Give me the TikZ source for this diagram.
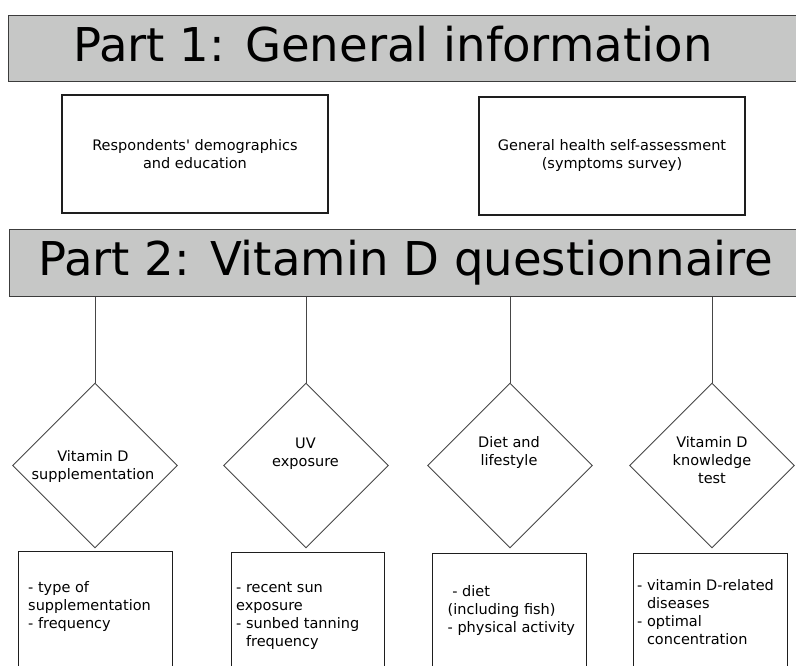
\documentclass[tikz,border=0pt]{standalone}
\usepackage{fontspec}
\setmainfont{DejaVu Sans}[Ligatures=TeXOff]
\usetikzlibrary{shapes.geometric}
\definecolor{bandgray}{RGB}{198,199,198}
\definecolor{edgegray}{RGB}{60,60,60}
\definecolor{boxedge}{RGB}{30,30,30}
\definecolor{thinedge}{RGB}{70,70,70}
\begin{document}
\begin{tikzpicture}[x=1pt,y=-1pt,
  band/.style={draw=edgegray, line width=1.4pt, fill=bandgray, rectangle, inner sep=0pt, anchor=north west, minimum width=800pt},
  titletext/.style={anchor=base west, inner sep=0pt, font=\fontsize{46.6}{56}\selectfont},
  infobox/.style={draw=boxedge, line width=1.4pt, rectangle, inner sep=0pt, minimum width=266pt, minimum height=118pt, align=center, font=\fontsize{14.5}{18}\selectfont},
  choice/.style={draw=thinedge, line width=0.9pt, diamond, inner sep=0pt, minimum width=165pt, minimum height=165pt},
  choicetext/.style={anchor=north, inner sep=0pt, align=center, font=\fontsize{14.5}{18}\selectfont},
  listbox/.style={draw=boxedge, line width=1.4pt, rectangle, inner sep=0pt, anchor=north west, minimum width=154pt, minimum height=150pt},
  listtext/.style={anchor=north west, inner sep=0pt, align=left, font=\fontsize{14.5}{18}\selectfont},
  link/.style={draw=thinedge, line width=0.9pt}
]
\useasboundingbox (0,0) rectangle (796,666);
\clip (0,0) rectangle (796,666);

% Part 1
\node[band, minimum height=66pt] (p1) at (8,15) {};
\node[titletext] (t1) at (73,62) {Part 1: General information};
\node[infobox] (g1) at (195,154) {Respondents' demographics\\and education};
\node[infobox] (g2) at (612,156) {General health self-assessment\\(symptoms survey)};

% Part 2
\node[band, minimum height=67pt] (p2) at (9,229) {};
\node[titletext] (t2) at (38,276) {Part 2: Vitamin D questionnaire};

% diamonds
\node[choice] (d1) at (95,465.5) {};
\node[choice] (d2) at (306,465.5) {};
\node[choice] (d3) at (510,465.5) {};
\node[choice] (d4) at (712,465.5) {};
\node[choicetext] (d1t) at (93,450) {Vitamin D\\supplementation};
\node[choicetext] (d2t) at (305.5,437.4) {UV\\exposure};
\node[choicetext] (d3t) at (509,436) {Diet and\\lifestyle};
\node[choicetext] (d4t) at (712,436) {Vitamin D\\knowledge\\test};

% connectors
\draw[link] (d1.north) -- (d1.north |- p2.south);
\draw[link] (d2.north) -- (d2.north |- p2.south);
\draw[link] (d3.north) -- (d3.north |- p2.south);
\draw[link] (d4.north) -- (d4.north |- p2.south);

% detail boxes
\node[listbox] (b1) at (18,551) {};
\node[listbox, minimum width=153pt] (b2) at (231,552) {};
\node[listbox] (b3) at (432,553) {};
\node[listbox] (b4) at (633,553) {};
\node[listtext] (l1) at (28,581) {- type of\\supplementation\\- frequency};
\node[listtext] (l2) at (236,582.6) {- recent sun\\exposure\\- sunbed tanning\\\hspace*{9.8pt}frequency};
\node[listtext] (l3) at (447.5,585) {\hspace*{4.6pt}- diet\\(including fish)\\- physical activity};
\node[listtext] (l4) at (637,579) {- vitamin D-related\\\hspace*{9.8pt}diseases\\- optimal\\\hspace*{9.8pt}concentration};
\end{tikzpicture}
\end{document}
